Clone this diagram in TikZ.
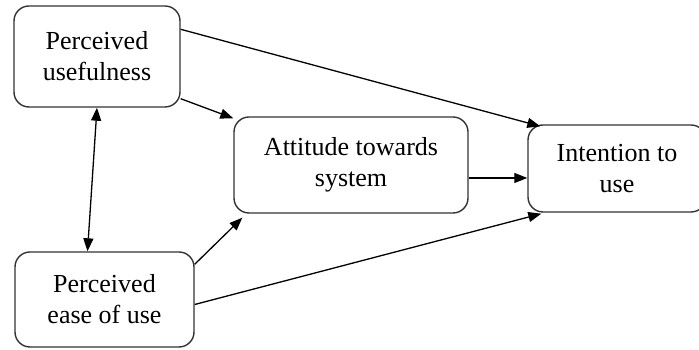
\documentclass[tikz,border=0pt]{standalone}
\usepackage{fontspec}
\setmainfont{Liberation Serif}
\usetikzlibrary{arrows.meta}
\begin{document}
\begin{tikzpicture}[x=1pt,y=1pt,
  box/.style={draw=black!80, line width=1.4pt, rounded corners=15pt, align=center,
    inner sep=0pt, font=\fontsize{26}{31}\selectfont},
  conn/.style={line width=1.3pt, -{Triangle[length=13pt,width=10pt]}},
  bconn/.style={line width=1.3pt, {Triangle[length=13pt,width=10pt]}-{Triangle[length=13pt,width=10pt]}}]
\useasboundingbox (0,0) rectangle (699,350);
\node[box, minimum width=166pt, minimum height=101pt] (pu) at (97,293.5) {Perceived\\usefulness};
\node[box, minimum width=179pt, minimum height=95pt] (peu) at (104.5,50.5) {Perceived\\ease of use};
\node[box, minimum width=234pt, minimum height=96pt] (ats) at (351,185) {Attitude towards\\system};
\node[box, minimum width=178pt, minimum height=87pt] (itu) at (617,181.5) {Intention to\\use};
\draw[conn] ([yshift=-24pt]pu.north east) -- ([xshift=13pt,yshift=-2pt]itu.north west);
\draw[conn] ([yshift=9pt]pu.south east) -- ([yshift=-2pt]ats.north west);
\draw[bconn] (pu.south) -- ([xshift=-17pt]peu.north);
\draw[conn] ([yshift=-13pt]peu.north east) -- ([xshift=9pt,yshift=-4pt]ats.south west);
\draw[conn] ([yshift=-5pt]peu.east) -- ([xshift=14pt,yshift=-1pt]itu.south west);
\draw[conn] ([yshift=-13pt]ats.east) -- ([yshift=-13pt]ats.east -| itu.west);
\end{tikzpicture}
\end{document}
